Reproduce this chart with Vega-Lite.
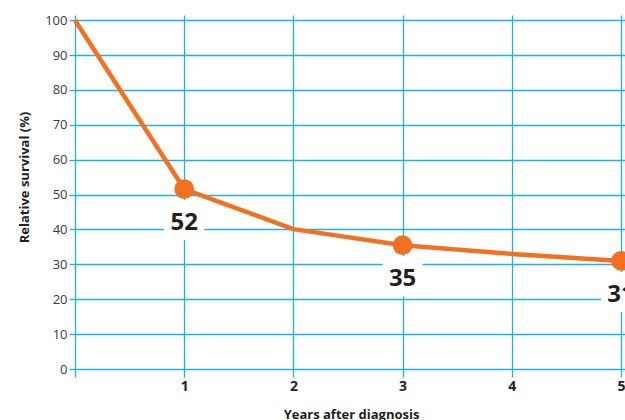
{
  "$schema": "https://vega.github.io/schema/vega-lite/v6.json",
  "autosize": "none",
  "padding": {"left": 75, "top": 15, "right": 0, "bottom": 51},
  "width": 550,
  "height": 354,
  "background": "white",
  "config": {
    "view": {"stroke": null},
    "font": "Open Sans",
    "axis": {
      "domain": false,
      "grid": true,
      "gridColor": "#1fb0e8",
      "gridWidth": 1.3,
      "tickColor": "#1fb0e8",
      "tickWidth": 1.3
    }
  },
  "data": {
    "values": [
      {"year": 0, "survival": 100, "label": null},
      {"year": 1, "survival": 51.6, "label": "52"},
      {"year": 2, "survival": 40.1, "label": null},
      {"year": 3, "survival": 35.5, "label": "35"},
      {"year": 4, "survival": 33, "label": null},
      {"year": 5, "survival": 31, "label": "31"}
    ]
  },
  "encoding": {
    "x": {
      "field": "year",
      "type": "quantitative",
      "scale": {"domain": [0, 5.0366], "nice": false, "zero": false},
      "axis": {
        "values": [0, 1, 2, 3, 4, 5],
        "title": "Years after diagnosis",
        "titleFont": "Open Sans",
        "titleFontSize": 13,
        "titleFontWeight": "bold",
        "titleColor": "#231f20",
        "titleBaseline": "alphabetic",
        "titleY": 49,
        "titleX": 276,
        "tickSize": 8,
        "labelExpr": "datum.value == 0 ? '' : datum.label",
        "labelFontSize": 14,
        "labelFontWeight": "bold",
        "labelColor": "#231f20",
        "labelPadding": 2
      }
    },
    "y": {
      "field": "survival",
      "type": "quantitative",
      "scale": {"domain": [0, 101.5], "nice": false},
      "axis": {
        "values": [0, 10, 20, 30, 40, 50, 60, 70, 80, 90, 100],
        "title": "Relative survival (%)",
        "titleFont": "Open Sans",
        "titleFontSize": 13,
        "titleFontWeight": "bold",
        "titleColor": "#231f20",
        "titleAngle": -90,
        "titleAlign": "center",
        "titleBaseline": "alphabetic",
        "titleX": -47,
        "titleY": 162,
        "tickSize": 6,
        "labelFontSize": 13,
        "labelColor": "#3a3a3a",
        "labelPadding": 2
      }
    }
  },
  "layer": [
    {
      "transform": [{"filter": "datum.label != null"}],
      "mark": {
        "type": "point",
        "shape": "M-1,0.55H1V2.55H-1Z",
        "size": 1600,
        "filled": true,
        "fill": "white",
        "stroke": null,
        "opacity": 1
      }
    },
    {
      "mark": {"type": "line", "color": "#f37021", "strokeWidth": 4.5, "strokeJoin": "round"}
    },
    {
      "transform": [{"filter": "datum.label != null"}],
      "mark": {"type": "circle", "color": "#f37021", "size": 390, "opacity": 1}
    },
    {
      "transform": [{"filter": "datum.label != null"}],
      "mark": {
        "type": "text",
        "font": "Open Sans",
        "fontSize": 24,
        "fontWeight": "bold",
        "color": "#231f20",
        "baseline": "middle",
        "align": "center",
        "dy": 34
      },
      "encoding": {"text": {"field": "label"}}
    }
  ]
}
